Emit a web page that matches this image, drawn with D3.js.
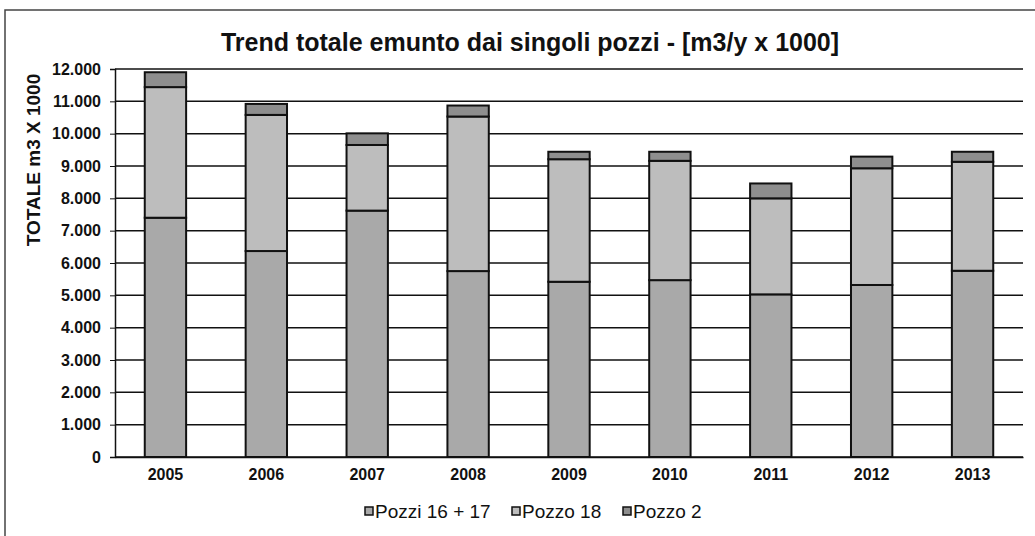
<!DOCTYPE html>
<html>
<head>
<meta charset="utf-8">
<script src="https://cdn.jsdelivr.net/npm/d3@7"></script>
<style>
  body { margin: 0; background: #fff; }
  svg { display: block; font-family: "Liberation Sans", Arial, sans-serif; }
</style>
</head>
<body>
<svg id="chart" width="1035" height="536"></svg>
<script>
// Data (m3/y x 1000)
const years = ["2005", "2006", "2007", "2008", "2009", "2010", "2011", "2012", "2013"];
const pozzi1617 = [7400, 6370, 7620, 5750, 5420, 5470, 5030, 5320, 5760];
const pozzo18 = [4040, 4210, 2030, 4780, 3790, 3690, 2970, 3610, 3370];
const pozzo2 = [460, 340, 360, 340, 230, 280, 460, 360, 310];
const seriesNames = ["Pozzi 16 + 17", "Pozzo 18", "Pozzo 2"];
const yTicks = [0, 1000, 2000, 3000, 4000, 5000, 6000, 7000, 8000, 9000, 10000, 11000, 12000];

const colors = ["#a9a9a9", "#bdbdbd", "#8e8e8e"];

// table for d3.stack
const rows = years.map((y, i) => ({
  year: y,
  "Pozzi 16 + 17": pozzi1617[i],
  "Pozzo 18": pozzo18[i],
  "Pozzo 2": pozzo2[i]
}));

const margin = { top: 69, right: 12, bottom: 79, left: 115 },
  W = 1035,
  H = 536;

const it = d3.formatLocale({ decimal: ",", thousands: ".", grouping: [3], currency: ["", ""] });
const fmt = it.format(",");

const svg = d3.select("#chart");

// outer chart frame (only top and left edges visible in scan)
svg.append("path")
  .attr("d", "M5,540 L5,10 L1040,10")
  .attr("fill", "none")
  .attr("stroke", "#444")
  .attr("stroke-width", 1.5);

const x = d3.scaleBand()
  .domain(years)
  .range([margin.left, W - margin.right])
  .paddingInner(0.59)
  .paddingOuter(0.295);

const y = d3.scaleLinear()
  .domain([0, 12000])
  .range([H - margin.bottom, margin.top]);

// gridlines
svg.append("g")
  .selectAll("line")
  .data(yTicks)
  .join("line")
  .attr("x1", margin.left)
  .attr("x2", W - margin.right)
  .attr("y1", d => y(d))
  .attr("y2", d => y(d))
  .attr("stroke", "#111")
  .attr("stroke-width", 1.5);

// y axis
const axisY = svg.append("g")
  .attr("transform", "translate(" + margin.left + ",0)")
  .call(d3.axisLeft(y).tickValues(yTicks).tickFormat(fmt).tickSize(5).tickPadding(9));
axisY.select(".domain").attr("stroke", "#111").attr("stroke-width", 1.5);
axisY.selectAll(".tick line").attr("stroke", "#111");
axisY.selectAll("text")
  .attr("font-size", 16)
  .attr("font-weight", "bold")
  .attr("fill", "#111")
  .attr("font-family", "Liberation Sans, Arial, sans-serif");

// x axis
const axisX = svg.append("g")
  .attr("transform", "translate(0," + (H - margin.bottom) + ")")
  .call(d3.axisBottom(x).tickSize(0).tickPadding(12));
axisX.select(".domain").attr("stroke", "#111").attr("stroke-width", 1.5);
axisX.selectAll("text")
  .attr("font-size", 16)
  .attr("font-weight", "bold")
  .attr("fill", "#111")
  .attr("font-family", "Liberation Sans, Arial, sans-serif");

// stacked bars
const stack = d3.stack().keys(seriesNames)(rows);

svg.append("g")
  .selectAll("g")
  .data(stack)
  .join("g")
  .attr("fill", (d, i) => colors[i])
  .selectAll("rect")
  .data(d => d)
  .join("rect")
  .attr("x", d => x(d.data.year))
  .attr("width", x.bandwidth())
  .attr("y", d => y(d[1]))
  .attr("height", d => y(d[0]) - y(d[1]))
  .attr("stroke", "#111")
  .attr("stroke-width", 2);

// title
svg.append("text")
  .attr("x", 530)
  .attr("y", 51)
  .attr("text-anchor", "middle")
  .attr("font-size", 25)
  .attr("font-weight", "bold")
  .attr("fill", "#111")
  .text("Trend totale emunto dai singoli pozzi - [m3/y x 1000]");

// y axis title
svg.append("text")
  .attr("transform", "translate(40,160) rotate(-90)")
  .attr("text-anchor", "middle")
  .attr("font-size", 19)
  .attr("font-weight", "bold")
  .attr("fill", "#111")
  .text("TOTALE m3 X 1000");

// legend
const legendX = [365, 512, 623];
const legend = svg.append("g")
  .selectAll("g")
  .data(seriesNames)
  .join("g")
  .attr("transform", (d, i) => "translate(" + legendX[i] + ",507)");

legend.append("rect")
  .attr("width", 8)
  .attr("height", 8)
  .attr("fill", (d, i) => colors[i])
  .attr("stroke", "#111")
  .attr("stroke-width", 1.5);

legend.append("text")
  .attr("x", 10)
  .attr("y", 11)
  .attr("font-size", 19)
  .attr("fill", "#111")
  .text(d => d);
</script>
</body>
</html>
